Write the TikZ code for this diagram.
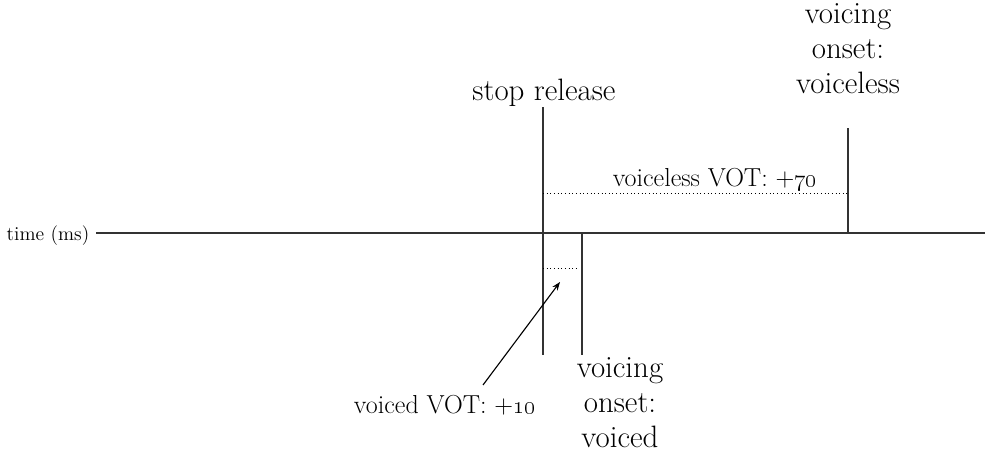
\documentclass[tikz,border=0pt]{standalone}
\usepackage{tikz}
\usetikzlibrary{arrows.meta,positioning}
\newcommand{\bigtxt}{\fontsize{22}{25}\selectfont}
\newcommand{\midtxt}{\fontsize{18.5}{22}\selectfont}
\newcommand{\smalltxt}{\fontsize{14}{16}\selectfont}

\begin{document}
\begin{tikzpicture}[x=0.025cm, y=-0.025cm,
    tick/.style={draw=black!80, line width=0.9pt},
    votline/.style={draw=black, dotted, line width=0.6pt},
    label/.style={align=center, inner sep=0pt, font=\bigtxt}]
  \useasboundingbox (0,0) rectangle (985,453);
  % time axis
  \node[font=\smalltxt, inner sep=0pt] (axis) at (48,236) {time (ms)};
  \coordinate (axisend) at (985,233);
  \draw[tick] (96,233) -- (axisend);
  % stop release
  \node[label, anchor=base] (release) at (544,100) {stop release};
  \coordinate (rtop) at (543,107);
  \coordinate (rbot) at (543,355);
  \draw[tick] (rtop) -- (rbot);
  % voiceless onset
  \node[label, anchor=north] (unvoiced) at (848,3) {voicing\\onset:\\voiceless};
  \coordinate (utop) at (848,128);
  \coordinate (ubot) at (848,233);
  \draw[tick] (utop) -- (ubot);
  % voiced onset
  \node[label, anchor=north] (voiced) at (620,357) {voicing\\onset:\\voiced};
  \coordinate (vtop) at (582,233);
  \coordinate (vbot) at (582,355);
  \draw[tick] (vtop) -- (vbot);
  % VOT spans
  \coordinate (ustart) at (543,193);
  \coordinate (vstart) at (543,268);
  \coordinate (vend) at (579,268);
  \draw[votline] (ustart) -- (ustart -| utop);
  \draw[votline] (vstart) -- (vend);
  \node[font=\midtxt, inner sep=0pt, anchor=base] (ulab) at (715,186)
    {voiceless VOT: +\oldstylenums{70}};
  \node[font=\midtxt, inner sep=0pt, anchor=base] (vlab) at (445,413)
    {voiced VOT: +\oldstylenums{10}};
  \coordinate (vtip) at (560,282);
  \draw[-{Stealth[length=6pt]}, line width=0.8pt] (483,385) -- (vtip);
\end{tikzpicture}
\end{document}
